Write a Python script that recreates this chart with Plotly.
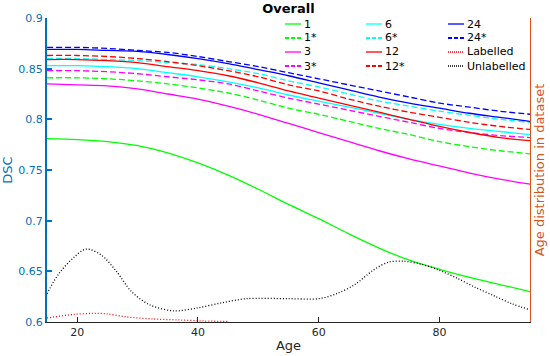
import plotly.graph_objects as go

# ---------------- data ----------------
age = [15, 20, 25, 30, 35, 40, 45, 50, 55, 60, 65, 70, 75, 80, 85, 90, 95]

dsc_1    = [0.781, 0.780, 0.778, 0.774, 0.767, 0.757, 0.745, 0.731, 0.716, 0.702, 0.687, 0.673, 0.661, 0.652, 0.644, 0.637, 0.630]
dsc_1s   = [0.841, 0.841, 0.840, 0.838, 0.835, 0.831, 0.826, 0.819, 0.811, 0.805, 0.798, 0.791, 0.785, 0.778, 0.773, 0.769, 0.766]
dsc_3    = [0.835, 0.834, 0.833, 0.830, 0.825, 0.820, 0.813, 0.805, 0.796, 0.787, 0.778, 0.769, 0.761, 0.754, 0.747, 0.741, 0.736]
dsc_3s   = [0.848, 0.848, 0.847, 0.845, 0.842, 0.839, 0.835, 0.828, 0.821, 0.815, 0.809, 0.803, 0.797, 0.791, 0.787, 0.784, 0.782]
dsc_6    = [0.853, 0.853, 0.852, 0.850, 0.846, 0.842, 0.837, 0.831, 0.824, 0.818, 0.812, 0.806, 0.800, 0.795, 0.791, 0.788, 0.785]
dsc_6s   = [0.860, 0.860, 0.859, 0.858, 0.856, 0.854, 0.850, 0.845, 0.838, 0.832, 0.825, 0.818, 0.813, 0.808, 0.804, 0.800, 0.797]
dsc_12   = [0.859, 0.859, 0.858, 0.856, 0.852, 0.848, 0.843, 0.836, 0.828, 0.821, 0.814, 0.807, 0.800, 0.793, 0.787, 0.782, 0.779]
dsc_12s  = [0.863, 0.863, 0.862, 0.860, 0.857, 0.853, 0.848, 0.842, 0.834, 0.828, 0.820, 0.813, 0.807, 0.802, 0.797, 0.793, 0.790]
dsc_24   = [0.869, 0.869, 0.868, 0.867, 0.864, 0.860, 0.855, 0.849, 0.843, 0.836, 0.829, 0.822, 0.816, 0.811, 0.806, 0.802, 0.798]
dsc_24s  = [0.871, 0.871, 0.870, 0.868, 0.866, 0.862, 0.857, 0.852, 0.846, 0.840, 0.834, 0.828, 0.822, 0.816, 0.812, 0.808, 0.805]

age_lab = [15, 19.5, 22.7, 25, 28.2, 32.6, 37, 41, 45]
labelled = [0.604, 0.6075, 0.6085, 0.608, 0.605, 0.603, 0.602, 0.601, 0.6005]

age_unl = [15, 17, 19.5, 21.5, 24, 26.5, 29, 32, 36, 40, 44, 48, 55, 60, 63, 66, 69, 71.5, 74, 77,
           80, 83, 86, 89, 92, 95]
unlabelled = [0.628, 0.648, 0.664, 0.672, 0.666, 0.650, 0.630, 0.617, 0.611, 0.614, 0.619, 0.623,
              0.623, 0.623, 0.628, 0.637, 0.651, 0.659, 0.660, 0.657, 0.651, 0.643, 0.634, 0.626,
              0.618, 0.612]

y_ticks = [0.6, 0.65, 0.7, 0.75, 0.8, 0.85, 0.9]
y_ticktext = ["0.6", "0.65", "0.7", "0.75", "0.8", "0.85", "0.9"]
x_ticks = [20, 40, 60, 80]

# ---------------- styling ----------------
W, H = 550, 356
ML, MR, MT, MB = 47, 20, 18, 34
PW, PH = W - ML - MR, H - MT - MB
FONT = "DejaVu Sans"
BLUE_AX = "#0072BD"
ORANGE_AX = "#D95319"
DARK = "#262626"

series = [
    ("1", dsc_1, "#00FF00", "solid"),
    ("1*", dsc_1s, "#00FF00", "dash"),
    ("3", dsc_3, "#FF00FF", "solid"),
    ("3*", dsc_3s, "#FF00FF", "dash"),
    ("6", dsc_6, "#00FFFF", "solid"),
    ("6*", dsc_6s, "#00FFFF", "dash"),
    ("12", dsc_12, "#FF0000", "solid"),
    ("12*", dsc_12s, "#FF0000", "dash"),
    ("24", dsc_24, "#0000FF", "solid"),
    ("24*", dsc_24s, "#0000FF", "dash"),
]
dist = [
    ("Labelled", age_lab, labelled, "#FF0000"),
    ("Unlabelled", age_unl, unlabelled, "#000000"),
]

DASH_PLOT = {"solid": "solid", "dash": "6px,3px", "dot": "1px,2px"}
DASH_LEG = {"solid": "solid", "dash": "4px,2px", "dot": "1px,1px"}

fig = go.Figure()
for name, vals, col, style in series:
    fig.add_trace(go.Scatter(
        x=age, y=vals, mode="lines", name=name, showlegend=False,
        line=dict(color=col, width=1.3, dash=DASH_PLOT[style], shape="spline", smoothing=0.9),
    ))
for name, xs, vals, col in dist:
    fig.add_trace(go.Scatter(
        x=xs, y=vals, mode="lines", name=name, showlegend=False, yaxis="y2",
        line=dict(color=col, width=1.3, dash=DASH_PLOT["dot"], shape="spline", smoothing=0.9),
    ))

# ---------------- custom legend (3 columns x 4 rows) ----------------
def paper(xpx, ypx):
    return (xpx - ML) / PW, (H - MB - ypx) / PH

legend_entries = [(n, c, s) for n, _, c, s in series] + [(n, c, "dot") for n, _, _, c in dist]
columns = [
    ["1", "1*", "3", "3*"],
    ["6", "6*", "12", "12*"],
    ["24", "24*", "Labelled", "Unlabelled"],
]
lookup = {n: (c, s) for n, c, s in legend_entries}
col_x = [285, 366, 448]
row_y0, row_dy = 24, 14
shapes, annotations = [], []
for ci, names in enumerate(columns):
    for ri, n in enumerate(names):
        c, s = lookup[n]
        ypx = row_y0 + ri * row_dy
        x0, y0 = paper(col_x[ci], ypx)
        x1, _ = paper(col_x[ci] + 16, ypx)
        shapes.append(dict(type="line", xref="paper", yref="paper", x0=x0, x1=x1, y0=y0, y1=y0,
                           line=dict(color=c, width=2 if s == "dash" else 1.3, dash=DASH_LEG[s])))
        tx, ty = paper(col_x[ci] + 17, ypx)
        annotations.append(dict(text=n, xref="paper", yref="paper", x=tx, y=ty, xanchor="left",
                                yanchor="middle", showarrow=False,
                                font=dict(family=FONT, size=11, color="#000000")))

fig.update_layout(
    width=W, height=H,
    margin=dict(l=ML, r=MR, t=MT, b=MB, pad=0),
    paper_bgcolor="white", plot_bgcolor="white",
    font=dict(family=FONT, size=11, color=DARK),
    title=dict(text="<b>Overall</b>", x=(ML + PW / 2) / W, xanchor="center", y=1 - 8 / H,
               yanchor="middle", font=dict(family=FONT, size=13, color="#000000")),
    shapes=shapes, annotations=annotations,
    xaxis=dict(range=[15, 95], tickvals=x_ticks, ticks="inside", ticklen=5, tickwidth=1,
               tickcolor=DARK, showline=True, linecolor=DARK, linewidth=1, showgrid=False,
               zeroline=False, tickfont=dict(family=FONT, size=11, color=DARK),
               title=dict(text="Age", font=dict(family=FONT, size=13, color=DARK), standoff=2),
               automargin=False),
    yaxis=dict(range=[0.6, 0.9], tickvals=y_ticks, ticktext=y_ticktext, ticks="inside",
               ticklen=5, tickwidth=1.5, tickcolor=BLUE_AX, showline=True, linecolor=BLUE_AX,
               linewidth=2, showgrid=False, zeroline=False,
               tickfont=dict(family=FONT, size=11, color=BLUE_AX),
               title=dict(text="DSC", font=dict(family=FONT, size=13, color=BLUE_AX), standoff=5),
               automargin=False),
    yaxis2=dict(range=[0.6, 0.9], overlaying="y", side="right", showline=True,
                linecolor=ORANGE_AX, linewidth=1, ticks="", showticklabels=False,
                showgrid=False, zeroline=False,
                title=dict(text="Age distribution in dataset",
                           font=dict(family=FONT, size=13, color=ORANGE_AX), standoff=4),
                automargin=False),
)

fig.write_html("out.html", config={"displayModeBar": False},
               post_script="document.body.style.margin='0';document.body.style.overflow='hidden';")
